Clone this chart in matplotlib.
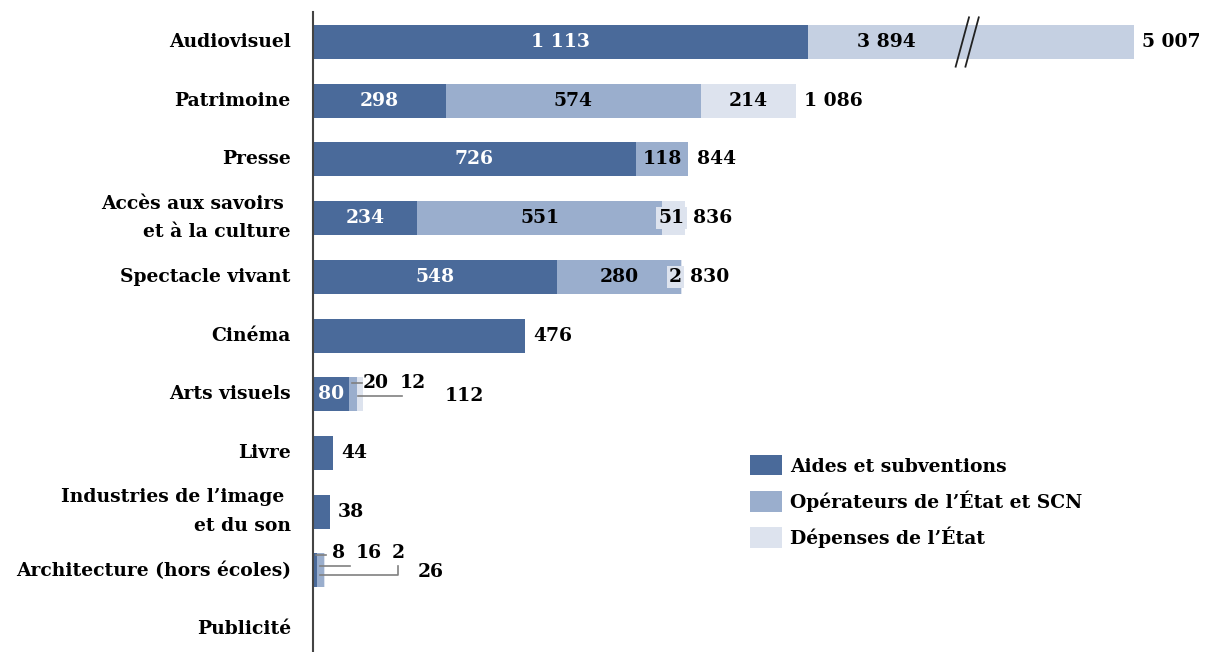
import matplotlib.pyplot as plt
from matplotlib.patches import Patch

CATEGORIES = ["Audiovisuel", "Patrimoine", "Presse", "Accès aux savoirs \net à la culture",
              "Spectacle vivant", "Cinéma", "Arts visuels", "Livre",
              "Industries de l’image \net du son", "Architecture (hors écoles)", "Publicité"]
AIDES = [1113, 298, 726, 234, 548, 476, 80, 44, 38, 8, 0]
OPERATEURS = [0, 574, 118, 551, 280, 0, 20, 0, 0, 16, 0]
DEPENSES = [3894, 214, 0, 51, 2, 0, 12, 0, 0, 2, 0]
TOTALS = [5007, 1086, 844, 836, 830, 476, 112, 44, 38, 26, 0]
SERIES = ["Aides et subventions", "Opérateurs de l’État et SCN", "Dépenses de l’État"]

COLORS = ["#4a6a9a", "#9aaecd", "#dde3ee"]
BROKEN_COLOR = "#c5d0e2"
X_MAX = 1846      # visible range, Audiovisuel bar is cut (axis break)
BREAK_AT = 1465
SMALL_ROWS = [6, 9]   # rows whose small values are labelled outside


def fmt(v):
    return f"{v:,}".replace(",", " ")


plt.rcParams['font.family'] = ['DejaVu Serif']
plt.rcParams['font.weight'] = 'bold'
FS = 13.5

fig = plt.figure(figsize=(12.1, 6.52), dpi=100)
ax = fig.add_axes([313 / 1210, 0, 821 / 1210, 1 - 12 / 652])

y = list(range(len(CATEGORIES)))
left = [0] * len(y)
values = [AIDES, OPERATEURS, DEPENSES]
for s, vals in enumerate(values):
    cols = [COLORS[s]] * len(y)
    if s == 2:
        cols[0] = BROKEN_COLOR
    ax.barh(y, vals, left=left, height=0.58, color=cols, edgecolor='none', label=SERIES[s])
    for i, v in enumerate(vals):
        if v == 0 or i in SMALL_ROWS:
            continue
        xc = left[i] + v / 2
        if s == 0:
            if OPERATEURS[i] or DEPENSES[i]:
                ax.text(xc, i, fmt(v), ha='center', va='center', color='white', fontsize=FS)
        elif s == 1:
            ax.text(xc, i, fmt(v), ha='center', va='center', color='black', fontsize=FS)
        else:
            if i == 0:
                xc = left[i] + (BREAK_AT - left[i]) * 0.5
                ax.text(xc, i, fmt(v), ha='center', va='center', color='black', fontsize=FS)
            elif v >= 100:
                ax.text(xc, i, fmt(v), ha='center', va='center', color='black', fontsize=FS)
            else:
                ax.text(left[i] + v, i, fmt(v), ha='right', va='center', color='black',
                        fontsize=FS, bbox=dict(boxstyle='square,pad=0.12', fc=COLORS[2], ec='none'))
    left = [l + v for l, v in zip(left, vals)]

# totals
for i, t in enumerate(TOTALS):
    if t == 0 or i in SMALL_ROWS:
        continue
    ax.annotate(fmt(t), (min(t, X_MAX), i), xytext=(6, 0), textcoords='offset points',
                ha='left', va='center', fontsize=FS, color='black', annotation_clip=False)

# small values outside the bars with leader lines
lc = '#808080'
# Arts visuels
i = 6
ax.text(AIDES[i] / 2, i, str(AIDES[i]), ha='center', va='center', color='white', fontsize=FS)
ax.text(112, i - 0.19, str(OPERATEURS[i]), ha='left', va='center', fontsize=FS)
ax.text(196, i - 0.19, str(DEPENSES[i]), ha='left', va='center', fontsize=FS)
ax.text(297, i + 0.03, fmt(TOTALS[i]), ha='left', va='center', fontsize=FS)
ax.plot([88, 110], [i - 0.2, i - 0.2], color=lc, lw=1.2)
ax.plot([101, 200], [i + 0.03, i + 0.03], color=lc, lw=1.2)
# Architecture
i = 9
ax.text(43, i - 0.29, str(AIDES[i]), ha='left', va='center', fontsize=FS)
ax.text(97, i - 0.29, str(OPERATEURS[i]), ha='left', va='center', fontsize=FS)
ax.text(178, i - 0.29, str(DEPENSES[i]), ha='left', va='center', fontsize=FS)
ax.text(236, i + 0.03, fmt(TOTALS[i]), ha='left', va='center', fontsize=FS)
ax.plot([7, 29], [i - 0.26, i - 0.26], color=lc, lw=1.2)
ax.plot([16, 83], [i - 0.07, i - 0.07], color=lc, lw=1.2)
ax.plot([16, 191, 191], [i + 0.07, i + 0.07, i - 0.08], color=lc, lw=1.2)

# axis break marks
for off in [0, 22]:
    ax.plot([BREAK_AT - 20 + off, BREAK_AT + 10 + off], [0.42, -0.42], color='#222222',
            lw=1.3, clip_on=False)

ax.set_xlim(0, X_MAX)
ax.set_ylim(10.39, -0.511)
ax.set_yticks(y)
ax.set_yticklabels(CATEGORIES, fontsize=FS, linespacing=1.75)
for lab in ax.get_yticklabels():
    lab.set_verticalalignment('center')
ax.tick_params(axis='y', length=0, pad=16)
ax.set_xticks([])
for side in ['top', 'right', 'bottom']:
    ax.spines[side].set_visible(False)
ax.spines['left'].set_color('#444444')
ax.spines['left'].set_linewidth(1.5)

handles = [Patch(facecolor=c, edgecolor='none') for c in COLORS]
ax.legend(handles, SERIES, loc='upper left', bbox_to_anchor=((750 - 313) / 821, 1 - (455 - 12) / 640),
          frameon=False, borderpad=0, borderaxespad=0, handlelength=1.7, handleheight=1.3,
          handletextpad=0.45, labelspacing=0.78, prop={'weight': 'bold', 'size': FS})

plt.savefig("out.png", dpi=100)
